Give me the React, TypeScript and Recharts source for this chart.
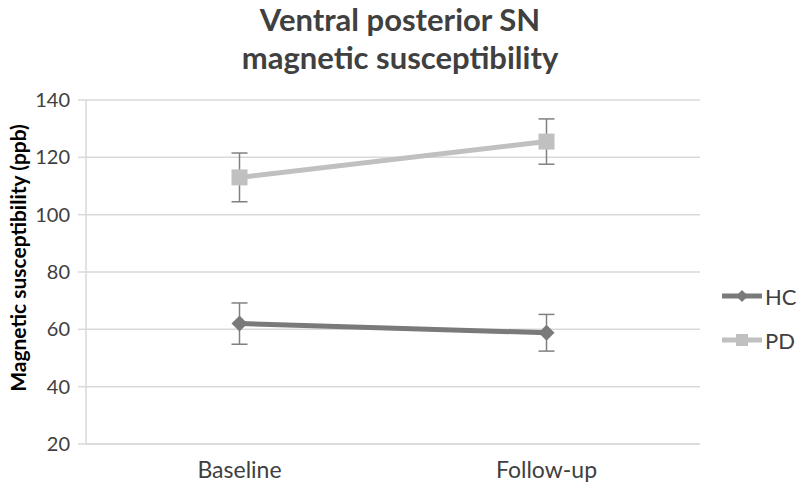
import React from "react";
import { LineChart, Line, XAxis, YAxis, CartesianGrid, ErrorBar, Legend } from "recharts";

const timepoints = ["Baseline", "Follow-up"];
const hcMean = [62, 58.8];
const hcErr = [7.2, 6.4];
const pdMean = [113, 125.5];
const pdErr = [8.5, 7.9];
const yTicks = [20, 40, 60, 80, 100, 120, 140];

const FONT = "Lato, 'Open Sans', sans-serif";
const HC_COLOR = "#7a7a7a";
const PD_COLOR = "#c0c0c0";
const TEXT = "#404040";

const data = timepoints.map((t, i) => ({
  name: t,
  hc: hcMean[i],
  hcErr: hcErr[i],
  pd: pdMean[i],
  pdErr: pdErr[i],
}));

const Diamond = (props: any) => {
  const { cx, cy } = props;
  if (cx == null || cy == null) return null;
  const r = 8;
  return <path d={`M${cx},${cy - r}L${cx + r},${cy}L${cx},${cy + r}L${cx - r},${cy}Z`} fill={HC_COLOR} />;
};

const Square = (props: any) => {
  const { cx, cy } = props;
  if (cx == null || cy == null) return null;
  const s = 16;
  return <rect x={cx - s / 2} y={cy - s / 2} width={s} height={s} fill={PD_COLOR} />;
};

const YLabel = (props: any) => {
  const { viewBox } = props;
  const cy = viewBox.y + viewBox.height / 2 - 14;
  return (
    <text
      x={17}
      y={cy}
      transform={`rotate(-90, 17, ${cy})`}
      textAnchor="middle"
      dominantBaseline="central"
      fill="#000"
      fontSize={21}
      fontWeight={700}
      fontFamily={FONT}
    >
      Magnetic susceptibility (ppb)
    </text>
  );
};

const LegendContent = () => (
  <div style={{ fontFamily: FONT, fontSize: 22, color: TEXT }}>
    {[
      { label: "HC", color: HC_COLOR, shape: "diamond" },
      { label: "PD", color: PD_COLOR, shape: "square" },
    ].map((it, i) => (
      <div key={it.label} style={{ display: "flex", alignItems: "center", height: 28, marginBottom: i === 0 ? 16 : 0 }}>
        <svg width={40} height={16}>
          <line x1={0} y1={8} x2={40} y2={8} stroke={it.color} strokeWidth={5} />
          {it.shape === "diamond" ? (
            <path d="M20,2L26,8L20,14L14,8Z" fill={it.color} />
          ) : (
            <rect x={14} y={2} width={12} height={12} fill={it.color} />
          )}
        </svg>
        <span style={{ marginLeft: 3 }}>{it.label}</span>
      </div>
    ))}
  </div>
);

export default function App() {
  return (
    <div style={{ position: "absolute", left: 0, top: 0, width: 800, height: 494, background: "#fff" }}>
      <div
        style={{
          position: "absolute",
          left: 0,
          top: 0,
          width: 800,
          textAlign: "center",
          fontFamily: FONT,
          fontWeight: 700,
          fontSize: 31,
          lineHeight: "38px",
          color: TEXT,
        }}
      >
        Ventral posterior SN
        <br />
        magnetic susceptibility
      </div>
      <LineChart width={800} height={494} data={data} margin={{ top: 100, right: 20, bottom: 0, left: 0 }}>
        <CartesianGrid vertical={false} stroke="#d9d9d9" strokeWidth={1.5} />
        <XAxis
          dataKey="name"
          scale="band"
          height={50}
          axisLine={{ stroke: "#d9d9d9", strokeWidth: 1.5 }}
          tickLine={false}
          tick={{ fill: TEXT, fontSize: 23, fontFamily: FONT }}
          tickMargin={12}
        />
        <YAxis
          width={86}
          domain={[20, 140]}
          ticks={yTicks}
          axisLine={{ stroke: "#d9d9d9", strokeWidth: 1.5 }}
          tickLine={{ stroke: "#d9d9d9", strokeWidth: 1.5 }}
          tickSize={8}
          tickMargin={8}
          tick={{ fill: TEXT, fontSize: 20, fontFamily: FONT }}
          label={<YLabel />}
        />
        <Legend
          verticalAlign="middle"
          align="right"
          layout="horizontal"
          content={<LegendContent />}
          wrapperStyle={{ position: "absolute", left: 722, top: 282, width: 80 }}
        />
        <Line
          dataKey="hc"
          name="HC"
          stroke={HC_COLOR}
          strokeWidth={5}
          dot={<Diamond />}
          activeDot={false}
          isAnimationActive={false}
        >
          <ErrorBar dataKey="hcErr" width={8} stroke="#808080" strokeWidth={1.5} isAnimationActive={false} />
        </Line>
        <Line
          dataKey="pd"
          name="PD"
          stroke={PD_COLOR}
          strokeWidth={5}
          dot={<Square />}
          activeDot={false}
          isAnimationActive={false}
        >
          <ErrorBar dataKey="pdErr" width={8} stroke="#808080" strokeWidth={1.5} isAnimationActive={false} />
        </Line>
      </LineChart>
    </div>
  );
}
